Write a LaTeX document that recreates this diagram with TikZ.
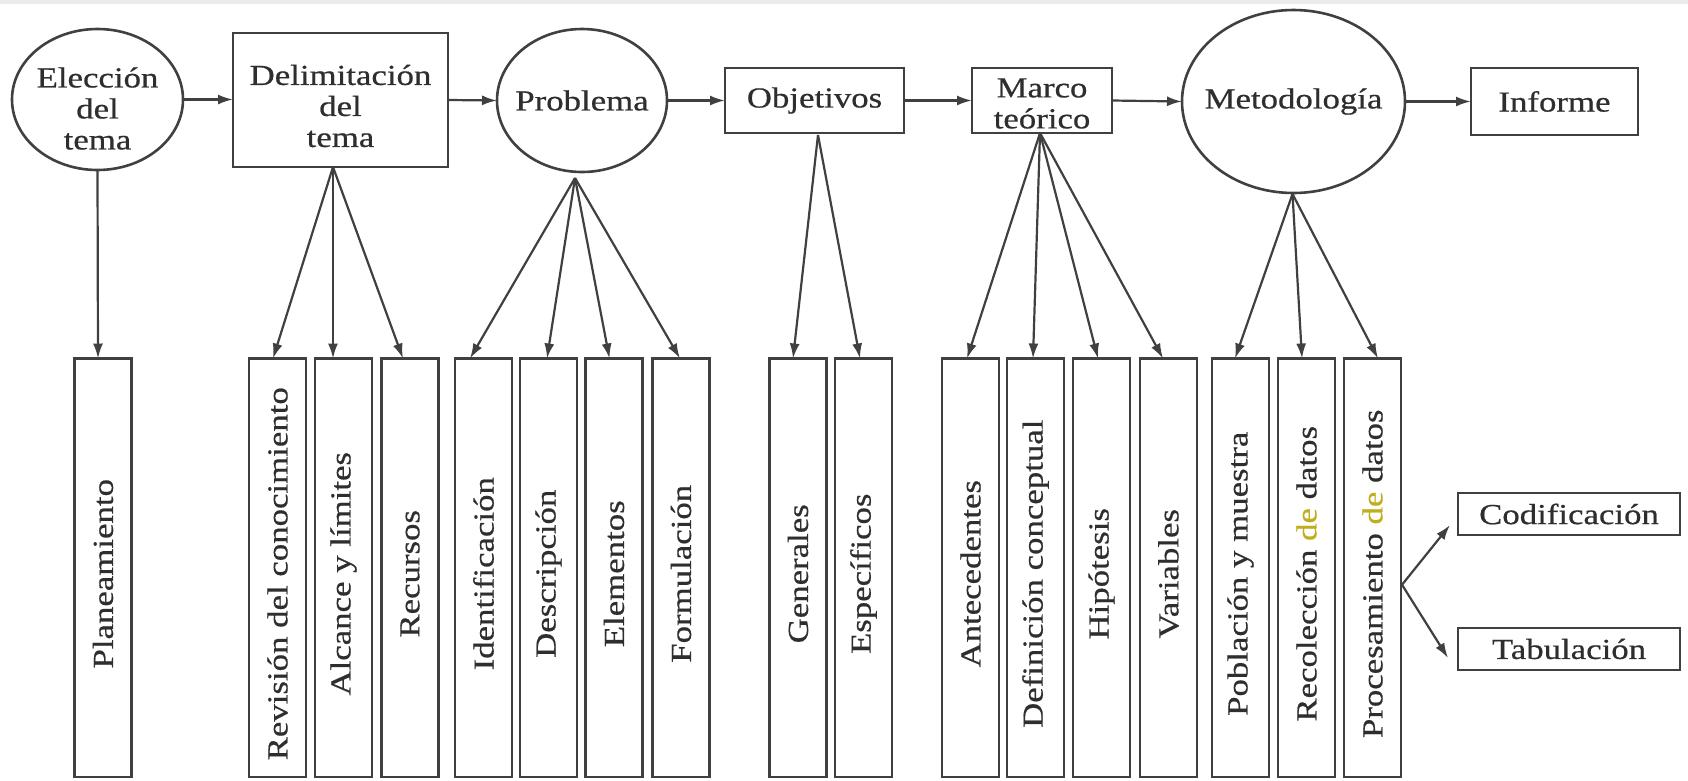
\documentclass[tikz,border=0pt]{standalone}
\usepackage{fontspec}
\setmainfont{Liberation Serif}[FakeStretch=1.2,FakeBold=0.6]
\usetikzlibrary{shapes.geometric,arrows.meta,calc}
\definecolor{ink}{HTML}{2E2E2E}
\definecolor{linec}{HTML}{404040}
\definecolor{deyellow}{RGB}{192,174,30}
\definecolor{topband}{HTML}{EBEBEB}
\begin{document}
\begin{tikzpicture}[x=1pt,y=-1pt,
  every node/.style={inner sep=0pt, outer sep=0pt},
  shapeline/.style={draw=linec, line width=2.6pt},
  ell/.style={shapeline, ellipse},
  boxn/.style={shapeline, rectangle},
  vbox/.style={shapeline, rectangle, minimum width=57pt, minimum height=418.5pt},
  txt/.style={text=ink, font=\fontsize{29}{31}\selectfont, align=center},
  vtxt/.style={txt, rotate=90},
  conn/.style={draw=linec, line width=2.2pt, -{Latex[length=15pt,width=10pt]}},
]
\useasboundingbox (0,0) rectangle (1688,780);
\fill[topband] (0,0) rectangle (1688,4);

% top row
\node[ell, minimum width=171pt, minimum height=141pt] (elec) at (97.5,99.5) {};
\node[txt] (elect) at ($(elec)+(0,9)$) {Elección\\del\\tema};
\node[boxn, minimum width=215pt, minimum height=134pt] (delim) at (340.5,100) {};
\node[txt] (delimt) at ($(delim)+(0,6)$) {Delimitación\\del\\tema};
\node[ell, minimum width=170pt, minimum height=143pt] (prob) at (582,100.5) {};
\node[txt] (probt) at (prob) {Problema};
\node[boxn, minimum width=179pt, minimum height=65pt] (obj) at (814.5,100.5) {};
\node[txt] (objt) at (obj) {Objetivos};
\node[boxn, minimum width=140pt, minimum height=65pt] (marco) at (1042,100.5) {};
\node[txt] (marcot) at ($(marco)+(0,3)$) {Marco\\teórico};
\node[ell, minimum width=223pt, minimum height=183pt] (metod) at (1293.5,101.5) {};
\node[txt] (metodt) at (metod) {Metodología};
\node[boxn, minimum width=167pt, minimum height=67pt] (inf) at (1554.5,101.5) {};
\node[txt] (inft) at (inf) {Informe};

\draw[conn] (elec.east) -- (delim.west |- elec.east);
\draw[conn] (delim.east) -- (prob.west);
\draw[conn] (prob.east) -- (obj.west);
\draw[conn] (obj.east) -- (marco.west);
\draw[conn] (marco.east) -- (metod.west);
\draw[conn] (metod.east) -- (inf.west);

% bottom boxes
\foreach \n/\x/\t in {
  plan/103/Planeamiento,
  rev/277.5/Revisión del conocimiento,
  alc/343.5/Alcance y límites,
  rec/410/Recursos,
  ide/483.5/Identificación,
  des/548.5/Descripción,
  ele/614/Elementos,
  for/681/Formulación,
  gen/798/Generales,
  esp/863.5/Específicos,
  ant/970.5/Antecedentes,
  def/1035.5/Definición conceptual,
  hip/1101.5/Hipótesis,
  var/1168.5/Variables,
  pob/1240.5/Población y muestra,
  rco/1306.5/Recolección \textcolor{deyellow}{de} datos,
  pro/1372.5/Procesamiento \textcolor{deyellow}{de} datos}{
  \node[vbox] (\n) at (\x,567.75) {};
  \node[vtxt] (\n t) at ($(\n)+(0,6)$) {\t};
}

\node[boxn, minimum width=222pt, minimum height=42pt] (codif) at (1569,514) {};
\node[txt] (codift) at (codif) {Codificación};
\node[boxn, minimum width=222pt, minimum height=42pt] (tabul) at (1569,649) {};
\node[txt] (tabult) at (tabul) {Tabulación};

% fan connectors
\draw[conn] (elec.south) -- ($(plan.north)+(-5,0)$);

\coordinate (dA) at ($(delim.south)+(-7.5,0)$);
\draw[conn] (dA) -- ($(rev.north)+(-4.5,0)$);
\draw[conn] (dA) -- ($(alc.north)+(-10.5,0)$);
\draw[conn] (dA) -- ($(rec.north)+(-7,0)$);

\coordinate (pA) at ($(prob.south)+(-7,6)$);
\draw[conn] (pA) -- ($(ide.north)+(-13.5,0)$);
\draw[conn] (pA) -- ($(des.north)+(-1.5,0)$);
\draw[conn] (pA) -- ($(ele.north)+(-4.5,0)$);
\draw[conn] (pA) -- ($(for.north)+(-1,0)$);

\coordinate (oA) at ($(obj.south)+(3.5,2)$);
\draw[conn] (oA) -- ($(gen.north)+(-5,0)$);
\draw[conn] (oA) -- ($(esp.north)+(-3.5,0)$);

\coordinate (mA) at ($(marco.south)+(-2,0)$);
\draw[conn] (mA) -- ($(ant.north)+(-3.5,0)$);
\draw[conn] (mA) -- ($(def.north)+(-2.5,0)$);
\draw[conn] (mA) -- ($(hip.north)+(-3.5,0)$);
\draw[conn] (mA) -- ($(var.north)+(-5.5,0)$);

\coordinate (tA) at ($(metod.south)+(-1,1)$);
\draw[conn] (tA) -- ($(pob.north)+(-5.5,0)$);
\draw[conn] (tA) -- ($(rco.north)+(-4.5,0)$);
\draw[conn] (tA) -- ($(pro.north)+(5.5,0)$);

\coordinate (pR) at ($(pro.east)+(1,17)$);
\draw[conn] (pR) -- ($(codif.west)+(-8,11)$);
\draw[conn] (pR) -- ($(tabul.west)+(-10,9)$);
\end{tikzpicture}
\end{document}
